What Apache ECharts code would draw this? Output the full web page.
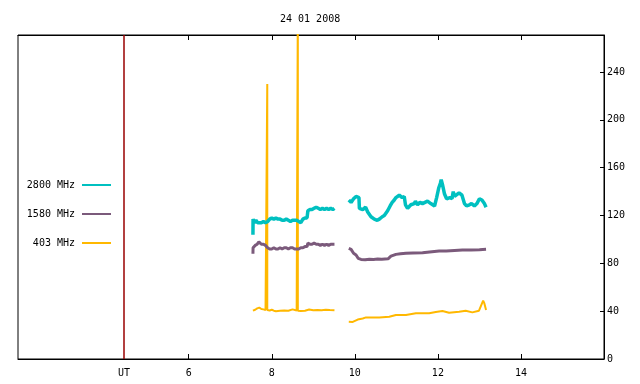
<!DOCTYPE html>
<html>
<head>
<meta charset="utf-8">
<script src="https://cdn.jsdelivr.net/npm/echarts@6/dist/echarts.min.js"></script>
<style>
  html, body { margin: 0; padding: 0; background: #fff; }
  #container { width: 640px; height: 384px; }
</style>
</head>
<body>
<div id="container"></div>
<script>
// hora UT, valor (flujo)
const titulo = "24 01 2008";
const nombres = ["2800 MHz", "1580 MHz", "403 MHz"];
const colores = ["#00c0c0", "#7b5a7b", "#ffb800"];
const marcaUT = 4.44;
const ticksX = [6, 8, 10, 12, 14];
const ticksY = [0, 40, 80, 120, 160, 200, 240];

const f2800 = [
  [7.547, 104], [7.55, 117], [7.58, 114], [7.62, 116], [7.66, 114], [7.70, 115], [7.75, 114],
  [7.80, 115], [7.85, 114], [7.90, 115], [7.95, 117], [8.00, 118], [8.05, 117], [8.10, 118],
  [8.15, 117], [8.20, 117], [8.25, 116], [8.30, 116], [8.35, 117], [8.40, 116], [8.45, 115],
  [8.50, 116], [8.55, 116], [8.60, 116], [8.65, 115], [8.70, 114], [8.75, 117], [8.80, 118],
  [8.85, 118], [8.87, 124], [8.92, 125], [8.97, 125], [9.02, 126], [9.07, 127], [9.12, 126],
  [9.17, 125], [9.22, 126], [9.27, 125], [9.32, 126], [9.37, 125], [9.42, 126], [9.47, 125],
  [9.51, 126],
  [9.68, null],
  [9.855, 133], [9.91, 131], [9.97, 134], [10.03, 136], [10.07, 137], [10.10, 135], [10.11, 126],
  [10.19, 125], [10.26, 127], [10.31, 123], [10.39, 119], [10.47, 117], [10.54, 116], [10.59, 117],
  [10.66, 119], [10.71, 120], [10.79, 124], [10.85, 128], [10.90, 131], [10.95, 133], [10.99, 135],
  [11.07, 137], [11.14, 135], [11.19, 136], [11.22, 129], [11.27, 126], [11.35, 129], [11.43, 130],
  [11.46, 132], [11.51, 129], [11.57, 131], [11.63, 130], [11.69, 131], [11.75, 132], [11.83, 130],
  [11.92, 128], [11.97, 135], [12.02, 143], [12.06, 147], [12.08, 150], [12.11, 146], [12.16, 138],
  [12.21, 134], [12.29, 135], [12.34, 134], [12.37, 140], [12.40, 136], [12.43, 136], [12.51, 139],
  [12.58, 137], [12.64, 130], [12.69, 128], [12.76, 129], [12.81, 130], [12.88, 128], [12.94, 130],
  [13.00, 134], [13.06, 133], [13.12, 130], [13.16, 127]
];

const f1580 = [
  [7.547, 88], [7.55, 93], [7.60, 95], [7.65, 96], [7.69, 98], [7.75, 96], [7.80, 96],
  [7.85, 95], [7.90, 93], [7.95, 92], [8.00, 92], [8.05, 93], [8.10, 92], [8.15, 92],
  [8.20, 93], [8.25, 92], [8.30, 93], [8.35, 93], [8.40, 92], [8.45, 93], [8.50, 93],
  [8.55, 92], [8.60, 92], [8.65, 92], [8.70, 93], [8.75, 93], [8.80, 94], [8.85, 94],
  [8.87, 97], [8.92, 96], [8.97, 96], [9.02, 97], [9.07, 96], [9.12, 96], [9.17, 95],
  [9.22, 96], [9.27, 95], [9.32, 96], [9.37, 95], [9.42, 96], [9.47, 96], [9.51, 96],
  [9.68, null],
  [9.855, 92.5], [9.91, 91.7], [9.97, 88.4], [10.03, 87], [10.08, 84.2], [10.15, 83.3],
  [10.25, 83], [10.35, 83.5], [10.45, 83.3], [10.55, 83.6], [10.65, 83.5], [10.80, 83.8],
  [10.87, 86], [10.99, 87.5], [11.10, 88], [11.23, 88.4], [11.40, 88.7], [11.63, 88.9],
  [11.80, 89.5], [12.03, 90.3], [12.20, 90.4], [12.40, 90.8], [12.59, 91.1], [12.80, 91.2],
  [13.00, 91.4], [13.16, 91.7]
];

const f403 = [
  [7.547, 40.4], [7.60, 41.2], [7.65, 42.3], [7.70, 43], [7.75, 41.8], [7.80, 41.5], [7.85, 41],
  [7.892, 41], [7.892, 230], [7.892, 41],
  [7.95, 40.6], [8.00, 41.2], [8.05, 40.4], [8.10, 40], [8.20, 40.4], [8.30, 40.6],
  [8.40, 40.4], [8.50, 41.5], [8.60, 40.5],
  [8.628, 40.4], [8.628, 300], [8.628, 40.4],
  [8.70, 40.2], [8.80, 40.4], [8.90, 41.4], [9.00, 40.8], [9.10, 41], [9.20, 40.8],
  [9.30, 41.2], [9.40, 41], [9.51, 40.8],
  [9.68, null],
  [9.855, 31.2], [9.95, 31], [10.07, 33], [10.19, 33.9], [10.27, 34.8], [10.59, 34.8],
  [10.83, 35.4], [10.99, 36.8], [11.23, 36.8], [11.47, 38.2], [11.79, 38.2], [11.95, 39.3],
  [12.11, 40.1], [12.27, 38.7], [12.51, 39.6], [12.67, 40.4], [12.83, 39], [12.99, 40.4],
  [13.03, 43.8], [13.09, 48.8], [13.12, 46.5], [13.16, 41]
];

const fuente = "DejaVu Sans Mono";
const datos = [f2800, f1580, f403];
const grosor = [3.5, 3, 2];
const legendTop = [175, 204, 233];

function graficaRadio() {
  let dom = document.getElementById("container");
  let myChart = echarts.init(dom, null, { renderer: "canvas" });

  let series = datos.map((d, i) => ({
    name: nombres[i],
    type: "line",
    data: d,
    showSymbol: false,
    symbol: "none",
    connectNulls: false,
    color: colores[i],
    lineStyle: { width: grosor[i], color: colores[i], join: "bevel" },
    z: 3 - i
  }));

  series.push({
    name: "UT",
    type: "line",
    data: [],
    markLine: {
      silent: true,
      symbol: "none",
      label: { show: false },
      lineStyle: { color: "#990000", width: 1.5, type: "solid" },
      data: [{ xAxis: marcaUT }]
    }
  });

  let option = {
    animation: false,
    backgroundColor: "#fff",
    title: {
      text: titulo,
      left: 275,
      top: 9,
      textStyle: { fontFamily: fuente, fontSize: 10, fontWeight: "normal", color: "#000" }
    },
    legend: nombres.map((n, i) => ({
      data: [n],
      right: 524,
      top: legendTop[i],
      orient: "vertical",
      align: "right",
      icon: "rect",
      itemWidth: 29,
      itemHeight: 2,
      selectedMode: false,
      textStyle: { fontFamily: fuente, fontSize: 10, color: "#000", padding: [0, 2, 0, 0] }
    })),
    grid: {
      left: 18,
      right: 36,
      top: 35,
      bottom: 25,
      show: true,
      borderColor: "#000",
      borderWidth: 1
    },
    xAxis: [
      {
        type: "value",
        min: 1.89,
        max: 16,
        position: "bottom",
        splitLine: { show: false },
        axisLine: { show: true, lineStyle: { color: "#000" } },
        axisTick: { show: true, inside: true, length: 5, customValues: ticksX, lineStyle: { color: "#000" } },
        axisLabel: {
          customValues: [marcaUT].concat(ticksX),
          formatter: (v) => (v === marcaUT ? "UT" : String(v)),
          fontFamily: fuente,
          fontSize: 10,
          color: "#000",
          margin: 9
        }
      },
      {
        type: "value",
        min: 1.89,
        max: 16,
        position: "top",
        splitLine: { show: false },
        axisLine: { show: true, lineStyle: { color: "#000" } },
        axisTick: { show: true, inside: true, length: 5, customValues: ticksX, lineStyle: { color: "#000" } },
        axisLabel: { show: false }
      }
    ],
    yAxis: {
      type: "value",
      min: 0,
      max: 271,
      position: "right",
      splitLine: { show: false },
      axisLine: { show: true, lineStyle: { color: "#000" } },
      axisTick: { show: true, inside: true, length: 4, customValues: ticksY, lineStyle: { color: "#000" } },
      axisLabel: {
        customValues: ticksY,
        fontFamily: fuente,
        fontSize: 10,
        color: "#000",
        margin: 3
      }
    },
    series: series
  };

  myChart.setOption(option);
  window.addEventListener("resize", myChart.resize);
}

graficaRadio();
</script>
</body>
</html>
